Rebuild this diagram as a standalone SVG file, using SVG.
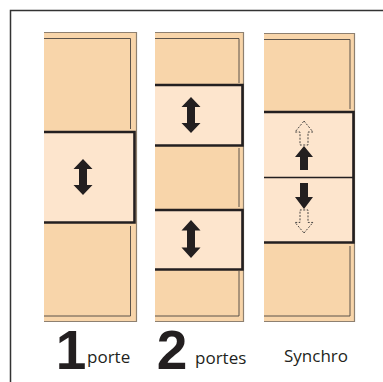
<svg xmlns="http://www.w3.org/2000/svg" width="383" height="382" viewBox="0 0 383 382">
<style>
.fixed{fill:#F8D5AA}
.outer{fill:none;stroke:#8E8070;stroke-width:1.2}
.inner{fill:none;stroke:#4A4440;stroke-width:0.9}
.door{fill:#FDE5CD}
.dborder{fill:none;stroke:#231F20;stroke-width:2.6;stroke-linejoin:miter}
.div{fill:none;stroke:#231F20;stroke-width:1.4}
.arr{fill:#231F20}
.darr{fill:none;stroke:#333;stroke-width:0.9;stroke-dasharray:2 1.5}
.big{font-family:"Liberation Sans",Arial,sans-serif;font-weight:bold;font-size:55px;fill:#231F20}
.lbl{font-family:"Open Sans","Noto Sans",sans-serif;font-size:17px;fill:#231F20}
.frame{fill:none;stroke:#333;stroke-width:1.5}
</style>
<defs>
<path id="dbl" d="M0,-18 L9.5,-8 L4,-8 L4,8 L9.5,8 L0,18 L-9.5,8 L-4,8 L-4,-8 L-9.5,-8 Z"/>
<path id="up" d="M0,0 L9,11 L4,11 L4,24 L-4,24 L-4,11 L-9,11 Z"/>
</defs>
<rect width="383" height="382" fill="#fff"/>
<path class="frame" d="M10.5,382 L10.5,10.5 L383,10.5"/>

<g id="col1">
<rect class="fixed" x="44" y="32" width="93" height="290"/>
<path class="outer" d="M44,32.5 L136.5,32.5 L136.5,322 M44,321.5 L136.5,321.5"/>
<path class="inner" d="M44,38.5 L130.5,38.5 L130.5,129"/>
<path class="inner" d="M130.5,226 L130.5,316 L44,316"/>
<rect class="door" x="44" y="131" width="91" height="92"/>
<path class="dborder" d="M44,132 L134.5,132 L134.5,222.5 L44,222.5"/>
<use href="#dbl" class="arr" transform="translate(83,177)"/>
</g>

<g id="col2">
<rect class="fixed" x="155" y="32" width="89" height="290"/>
<path class="outer" d="M155,32.5 L243.5,32.5 L243.5,322 M155,321.5 L243.5,321.5"/>
<path class="inner" d="M155,38.5 L239,38.5 L239,83"/>
<path class="inner" d="M239,148 L239,207"/>
<path class="inner" d="M239,271 L239,316 L155,316"/>
<rect class="door" x="155" y="84" width="88" height="62"/>
<path class="dborder" d="M155,85 L242.5,85 L242.5,145.5 L155,145.5"/>
<rect class="door" x="155" y="209" width="88" height="61"/>
<path class="dborder" d="M155,210 L242.5,210 L242.5,269.5 L155,269.5"/>
<use href="#dbl" class="arr" transform="translate(191,115)"/>
<use href="#dbl" class="arr" transform="translate(191,239) scale(1,1.05)"/>
</g>

<g id="col3">
<rect class="fixed" x="264" y="33" width="91" height="289"/>
<path class="outer" d="M264,33.5 L354.5,33.5 L354.5,322 M264,321.5 L354.5,321.5"/>
<path class="inner" d="M264,39.5 L350,39.5 L350,109"/>
<path class="inner" d="M350,246 L350,316 L264,316"/>
<rect class="door" x="264" y="111" width="90" height="132"/>
<path class="dborder" d="M264,112 L353.5,112 L353.5,242.5 L264,242.5"/>
<path class="div" d="M264,177.5 L353,177.5"/>
<use href="#up" class="darr" transform="translate(304,121)"/>
<use href="#up" class="arr" transform="translate(304,146)"/>
<use href="#up" class="arr" transform="translate(304,209) scale(1,-1.08)"/>
<use href="#up" class="darr" transform="translate(304,233) scale(1,-0.96)"/>
</g>

<g id="labels">
<text class="big" x="71" y="369" text-anchor="middle">1</text>
<text class="lbl" x="87" y="363">porte</text>
<text class="big" x="172" y="369" text-anchor="middle">2</text>
<text class="lbl" x="195" y="364">portes</text>
<text class="lbl" x="284" y="362">Synchro</text>
</g>
</svg>
